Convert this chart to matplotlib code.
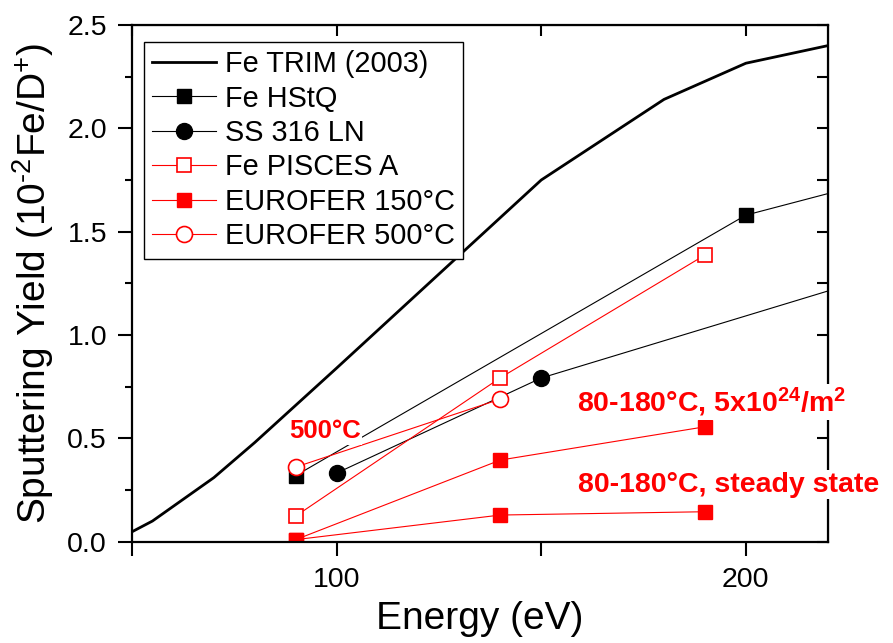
import matplotlib
matplotlib.use('Agg')
import matplotlib.pyplot as plt
from matplotlib.ticker import MultipleLocator

plt.rcParams['font.family'] = ['Liberation Sans', 'DejaVu Sans']
plt.rcParams['mathtext.fontset'] = 'custom'
plt.rcParams['mathtext.rm'] = 'Liberation Sans'
plt.rcParams['mathtext.bf'] = 'Liberation Sans:bold'
plt.rcParams['mathtext.default'] = 'regular'

# データ
trim_e = [50, 55, 70, 80, 100, 150, 180, 200, 220]
trim_y = [0.048, 0.10, 0.31, 0.48, 0.84, 1.75, 2.14, 2.315, 2.40]

hstq_e = [90, 200, 250]
hstq_y = [0.32, 1.58, 1.84]

ss_e = [100, 150, 250]
ss_y = [0.332, 0.792, 1.393]

pisces_e = [90, 140, 190]
pisces_y = [0.124, 0.793, 1.387]

euro150_e = [90, 140, 190]
euro150_y = [0.01, 0.395, 0.556]
euro150_ss_y = [0.01, 0.129, 0.145]

euro500_e = [90, 140]
euro500_y = [0.361, 0.69]

xticks = [50, 100, 150, 200]
xticklabels = ['', '100', '', '200']

fig = plt.figure(figsize=(8.93, 6.43), dpi=100)
ax = fig.add_axes([132 / 893, (643 - 541.7) / 643, 695.7 / 893, 516.7 / 643])

lw = 0.8
ax.plot(trim_e, trim_y, color='black', lw=2.0, label='Fe TRIM (2003)')
ax.plot(hstq_e, hstq_y, color='black', lw=lw, marker='s', ms=10,
        mfc='black', mec='black', label='Fe HStQ')
ax.plot(ss_e, ss_y, color='black', lw=lw, marker='o', ms=11.5,
        mfc='black', mec='black', label='SS 316 LN')
ax.plot(pisces_e, pisces_y, color='red', lw=lw, marker='s', ms=10,
        mfc='white', mec='red', mew=1.2, label='Fe PISCES A')
ax.plot(euro150_e, euro150_y, color='red', lw=lw, marker='s', ms=10,
        mfc='red', mec='red', label='EUROFER 150°C')
ax.plot(euro150_e, euro150_ss_y, color='red', lw=lw, marker='s', ms=10,
        mfc='red', mec='red')
ax.plot(euro500_e, euro500_y, color='red', lw=lw, marker='o', ms=11.5,
        mfc='white', mec='red', mew=1.2, label='EUROFER 500°C')

ax.set_xlim(50, 220)
ax.set_ylim(0, 2.5)
ax.set_xticks(xticks)
ax.set_xticklabels(xticklabels)
ax.yaxis.set_major_locator(MultipleLocator(0.5))
ax.yaxis.set_minor_locator(MultipleLocator(0.25))
ax.yaxis.set_major_formatter(matplotlib.ticker.FormatStrFormatter('%.1f'))

ax.tick_params(axis='both', which='major', direction='out', length=10, width=1.5,
               labelsize=20.5, pad=8)
ax.tick_params(axis='y', which='minor', direction='out', length=5, width=1.5)
for s in ax.spines.values():
    s.set_linewidth(1.6)

# 上・右の内向き目盛り
top = ax.secondary_xaxis('top')
top.set_xticks(xticks)
top.tick_params(direction='in', length=8, width=1.5, labeltop=False)
right = ax.secondary_yaxis('right')
right.yaxis.set_major_locator(MultipleLocator(0.5))
right.yaxis.set_minor_locator(MultipleLocator(0.25))
right.tick_params(which='both', direction='in', length=8, width=1.5, labelright=False)

ax.set_xlabel('Energy (eV)', fontsize=28, labelpad=6)
ax.set_ylabel(r'Sputtering Yield (10$^{\text{-}2}$Fe/D$^{+}$)', fontsize=28, labelpad=8)

leg = ax.legend(loc='upper left', bbox_to_anchor=(0.017, 0.968), borderaxespad=0,
                fontsize=20.8, handlelength=2.2, handletextpad=0.3, labelspacing=0.22,
                borderpad=0.3, fancybox=False, framealpha=1, edgecolor='black')
leg.get_frame().set_linewidth(1.0)

bb = dict(facecolor='white', edgecolor='none', pad=1)
ax.text(88.4, 0.50, '500°C', color='red', fontsize=18.5, fontweight='bold',
        va='baseline', ha='left', bbox=bb, zorder=10)
ax.text(158.8, 0.629, r'80-180°C, 5x10$^{\mathbf{24}}$/m$^{\mathbf{2}}$', color='red',
        fontsize=20.5, fontweight='bold', va='baseline', ha='left', bbox=bb, zorder=10)
ax.text(159.0, 0.242, '80-180°C, steady state', color='red', fontsize=20.5,
        fontweight='bold', va='baseline', ha='left', bbox=bb, zorder=10)

fig.savefig('out.png', dpi=100)
